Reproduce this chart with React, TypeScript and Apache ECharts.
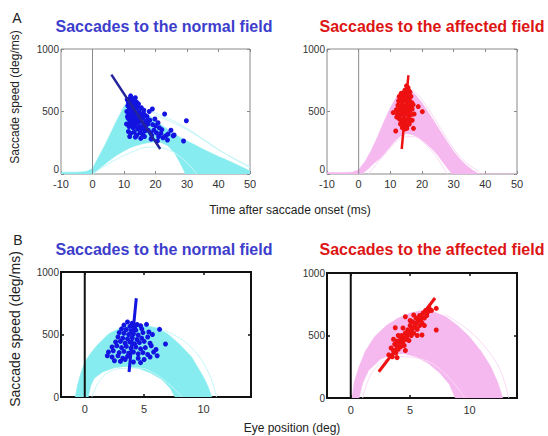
import React, { useEffect, useRef } from "react";
import * as echarts from "echarts";

const FONT = "'Liberation Sans', Arial, Helvetica, sans-serif";

// ---------- tick values ----------
const timeTicks = [-10, 0, 10, 20, 30, 40, 50];
const posTicks = [0, 5, 10];
const speedTicks = [0, 500, 1000];

// ---------- texts ----------
const panelLetters = ["A", "B"];
const titleNormal = "Saccades to the normal field";
const titleAffected = "Saccades to the affected field";
const yName = "Saccade speed (deg/ms)";
const xNameTime = "Time after saccade onset (ms)";
const xNamePos = "Eye position (deg)";

// ---------- A: speed vs time envelopes ----------
const normalTimeUpper = [[-10, 15], [-5, 15], [-2, 20], [0, 45], [2, 140], [4, 235], [6, 340], [8, 445], [10, 540], [11, 580], [12, 588], [14, 545], [16, 505], [18, 465], [20, 430], [22, 390], [24, 355], [26, 320], [28, 290], [30, 265], [32, 240], [35, 200], [38, 165], [40, 140], [42, 120], [45, 85], [48, 50], [50, 25]];
const normalTimeLower = [[-10, 0], [0, 0], [2, 40], [4, 80], [6, 120], [8, 155], [10, 185], [12, 210], [14, 228], [16, 242], [18, 252], [20, 258], [22, 250], [24, 225], [26, 170], [28, 80], [29.5, 0], [50, 0]];
const normalTimeFaint1 = [[18, 505], [24, 445], [30, 365], [36, 265], [42, 165], [48, 85], [50, 60]];
const normalTimeFaint2 = [[20, 470], [26, 405], [32, 325], [38, 225], [44, 135], [50, 50]];
const normalTimeFaint3 = [[0, 0], [6, 95], [12, 170], [18, 215], [24, 195], [30, 90], [33, 0]];

const affectedTimeUpper = [[-10, 12], [-5, 12], [-2, 15], [0, 35], [2, 100], [4, 190], [6, 300], [8, 420], [10, 530], [12, 620], [14, 670], [15, 682], [16, 676], [18, 632], [20, 570], [22, 495], [24, 415], [26, 335], [28, 255], [30, 180], [32, 120], [34, 70], [36, 30], [38, 0], [50, 0]];
const affectedTimeLower = [[-10, 0], [1, 0], [3, 40], [5, 90], [7, 130], [9, 190], [11, 250], [13, 300], [15, 325], [17, 315], [19, 290], [21, 250], [23, 205], [25, 150], [27, 80], [29, 15], [29.5, 0], [50, 0]];
const affectedTimeFaint1 = [[14, 690], [18, 650], [22, 520], [26, 360], [30, 200], [34, 90], [38, 20]];
const affectedTimeFaint2 = [[3, 0], [8, 150], [13, 280], [17, 300], [21, 240], [25, 120], [28, 0]];

// ---------- B: speed vs position envelopes ----------
const normalPosUpper = [[-0.8, 0], [-0.6, 100], [-0.3, 200], [0, 280], [0.5, 350], [1, 410], [2, 505], [3, 555], [4, 580], [5, 575], [6, 555], [7, 505], [8, 420], [9, 320], [10, 160], [10.4, 80], [10.7, 0]];
const normalPosLower = [[-0.8, 0], [0.3, 0], [0.5, 90], [0.8, 150], [1.5, 200], [2.5, 235], [3.5, 245], [4.5, 230], [5.5, 195], [6.5, 140], [7.2, 70], [7.6, 0], [10.7, 0]];
const normalPosFaint1 = [[0.6, 0], [1.5, 160], [3, 228], [4.5, 232], [6, 180], [7.3, 85], [8.2, 0]];
const normalPosFaint2 = [[6, 560], [8, 470], [9.5, 340], [10.5, 180], [11.1, 0]];

const affectedPosUpper = [[0.1, 0], [0.3, 130], [0.7, 250], [1.2, 370], [2, 490], [3, 580], [4, 640], [5, 680], [6, 700], [7, 690], [8, 650], [9, 580], [10, 490], [11, 370], [11.8, 250], [12.4, 120], [12.8, 0]];
const affectedPosLower = [[0.1, 0], [0.7, 0], [1, 120], [1.5, 220], [2.5, 310], [3.5, 350], [4.5, 355], [5.5, 330], [6.5, 280], [7.5, 200], [8.3, 110], [8.8, 0], [12.8, 0]];
const affectedPosFaint1 = [[8, 665], [10, 535], [11.5, 385], [12.6, 220], [13.3, 0]];
const affectedPosFaint2 = [[1.0, 0], [2, 230], [4, 330], [6, 310], [8, 190], [9.6, 0]];

// ---------- scatter points ----------
const normalTimePts = [
  [11.0, 595], [11.4, 575], [11.9, 605], [12.4, 590], [12.9, 570], [13.3, 585],
  [11.2, 545], [11.7, 525], [12.2, 555], [12.7, 535], [13.2, 550], [13.8, 525], [14.3, 540],
  [10.9, 500], [11.5, 485], [12.0, 470], [12.6, 505], [13.1, 490], [13.7, 470], [14.2, 485], [14.8, 500], [15.4, 470], [16.1, 485],
  [11.3, 445], [11.8, 430], [12.4, 450], [13.0, 420], [13.5, 440], [14.1, 410], [14.7, 435], [15.2, 420], [15.9, 445], [16.6, 410], [17.3, 460],
  [10.8, 400], [11.6, 380], [12.3, 395], [12.9, 370], [13.5, 390], [14.3, 360], [14.9, 380], [15.6, 360], [16.2, 390], [16.9, 370], [17.6, 400], [18.2, 430],
  [11.4, 340], [12.1, 325], [13.2, 335], [14.0, 310], [15.1, 330], [15.9, 320], [16.7, 345], [17.7, 350], [18.4, 330], [19.1, 395],
  [11.8, 300], [13.6, 295], [15.3, 285], [16.5, 300], [18.8, 310], [19.5, 350], [20.3, 330], [21.0, 300], [21.7, 325], [22.4, 290], [23.2, 305], [24.0, 320], [24.9, 350], [25.6, 305],
  [23.8, 272], [20.6, 265], [25.9, 312], [19.0, 520], [22.9, 480], [29.8, 426], [28.9, 264], [18.0, 500], [20.0, 385], [21.2, 370], [16.5, 475],
  [12.1, 625], [13.6, 610], [14.6, 560], [15.5, 530], [16.3, 510], [17.1, 425], [19.8, 440], [22.0, 355], [20.8, 410], [18.6, 280],
  [11.5, 560], [12.5, 520], [13.0, 600], [14.0, 575], [11.1, 460], [12.8, 455], [13.9, 450], [11.9, 405], [13.2, 385],
];
const normalTimeFit = [[6.0, 795], [21.5, 200]];

const affectedTimePts = [
  [15.1, 705], [15.6, 690], [14.6, 670], [15.9, 665], [13.4, 645], [14.2, 650], [15.3, 640], [16.2, 655],
  [12.8, 620], [13.6, 615], [14.4, 625], [15.0, 610], [15.8, 605], [16.5, 620],
  [12.6, 585], [13.2, 590], [13.9, 580], [14.7, 595], [15.4, 575], [16.1, 585], [16.8, 570],
  [12.4, 550], [13.0, 545], [13.7, 555], [14.3, 540], [15.1, 550], [15.8, 535], [16.4, 545], [17.2, 555],
  [11.9, 515], [12.7, 510], [13.4, 520], [14.1, 505], [14.8, 515], [15.5, 500], [16.2, 510], [16.9, 520],
  [12.2, 480], [13.0, 470], [13.6, 485], [14.4, 475], [15.2, 480], [15.9, 465], [16.6, 475],
  [12.9, 440], [13.5, 430], [14.2, 445], [14.9, 425], [15.6, 440], [16.3, 430],
  [13.2, 400], [13.9, 395], [14.6, 405], [15.3, 390], [16.0, 400],
  [13.8, 370], [14.5, 360], [15.2, 365],
  [18.8, 539], [20.1, 499], [10.9, 491], [11.7, 344], [17.3, 365], [17.5, 480], [12.0, 455], [16.9, 430],
];
const affectedTimeFit = [[13.6, 200], [15.7, 790]];

const normalPosPts = [
  [3.6, 600], [4.0, 590], [4.4, 580], [3.3, 575], [3.8, 565], [4.2, 555], [4.7, 570], [3.1, 545],
  [3.5, 540], [3.9, 530], [4.3, 535], [4.8, 545], [5.2, 581], [2.9, 515], [3.3, 510], [3.7, 500], [4.1, 505], [4.5, 495], [4.9, 515], [5.4, 520],
  [2.8, 480], [3.2, 470], [3.6, 465], [4.0, 475], [4.4, 460], [4.8, 470], [5.3, 480], [6.3, 541], [5.7, 500],
  [2.6, 440], [3.0, 445], [3.4, 430], [3.8, 440], [4.2, 425], [4.6, 435], [5.0, 445], [5.5, 430],
  [2.3, 400], [2.7, 410], [3.1, 395], [3.5, 405], [3.9, 390], [4.3, 400], [4.7, 385], [5.1, 395], [5.6, 410], [6.0, 380],
  [2.0, 360], [2.4, 370], [2.9, 355], [3.3, 365], [3.7, 350], [4.1, 360], [4.5, 345], [4.9, 355], [5.3, 340], [5.8, 360],
  [1.9, 330], [2.3, 320], [2.8, 330], [3.2, 310], [3.6, 325], [4.5, 310], [5.0, 300], [5.5, 320], [6.8, 424], [2.5, 290], [3.0, 285], [4.1, 280], [4.7, 275], [3.4, 300], [6.1, 330],
];
const normalPosFit = [[3.73, 200], [4.34, 790]];

const affectedPosPts = [
  [3.2, 345], [3.4, 400], [3.5, 330], [3.6, 380], [3.7, 430], [3.8, 360], [3.9, 410], [3.9, 455],
  [4.0, 390], [4.1, 440], [4.2, 470], [4.2, 410], [4.3, 500], [4.4, 450], [4.5, 480], [4.5, 420], [4.6, 520], [4.7, 470],
  [4.8, 500], [4.8, 545], [4.9, 460], [5.0, 530], [5.0, 580], [5.1, 500], [5.2, 555], [5.2, 610], [5.3, 520], [5.4, 570],
  [5.5, 600], [5.5, 640], [5.6, 550], [5.7, 620], [5.8, 580], [5.8, 660], [5.9, 630], [6.0, 600], [6.1, 680], [6.2, 640],
  [6.3, 700], [6.4, 660], [6.5, 690], [6.6, 720], [6.8, 700], [7.2, 717], [7.2, 544], [3.9, 323], [4.6, 380], [5.6, 500],
  [6.2, 580], [4.4, 560], [3.6, 470], [5.0, 620], [6.0, 504], [4.0, 500], [3.75, 562], [4.6, 650], [5.3, 664],
];
const affectedPosFit = [[2.36, 210], [7.1, 800]];

// ---------- styles ----------
const CYAN = "#86ecef";
const CYAN_FAINT = "#c4f6f7";
const PINK = "#f5b8ef";
const PINK_FAINT = "#f9d9f5";
const BLUE = "#1414e0";
const NAVY = "#23239c";
const RED = "#ee1111";

const grids = [
  { left: 61, top: 49, width: 189, height: 125 },
  { left: 327, top: 49, width: 190, height: 125 },
  { left: 61, top: 272, width: 190, height: 125 },
  { left: 327, top: 273, width: 190, height: 125 },
];

function buildOption() {
  const isB = (i: number) => i >= 2;
  const border = (i: number) => (isB(i) ? "#111" : "#8a8a8a");

  const xAxes: any[] = [];
  const yAxes: any[] = [];
  for (let k = 0; k < 2; k++) {
    for (let i = 0; i < 4; i++) {
      const b = isB(i);
      const tickStyle = { color: border(i), width: b ? 1.5 : 1 };
      const xBase: any = {
        type: "value",
        gridIndex: i,
        position: k === 0 ? "bottom" : "top",
        axisLine: { show: false, onZero: false },
        splitLine: { show: false },
        axisTick: { show: true, inside: true, length: 3, lineStyle: tickStyle },
        axisLabel: { show: k === 0, fontSize: 11, color: "#333", margin: b ? 6 : 4, fontFamily: FONT, formatter: (v: number) => String(v) },
      };
      if (b) {
        xBase.min = -2;
        xBase.max = 14;
        xBase.axisTick.customValues = posTicks;
        xBase.axisLabel.customValues = posTicks;
      } else {
        xBase.min = timeTicks[0];
        xBase.max = timeTicks[timeTicks.length - 1];
        xBase.interval = 10;
      }
      xAxes.push(xBase);
      const yLabel: any = { show: k === 0, fontSize: 10, color: "#333", margin: 2, fontFamily: FONT, formatter: (v: number) => String(v) };
      if (!b) yLabel.verticalAlignMinLabel = "bottom";
      yAxes.push({
        type: "value",
        gridIndex: i,
        position: k === 0 ? "left" : "right",
        min: speedTicks[0],
        max: speedTicks[speedTicks.length - 1],
        interval: 500,
        axisLine: { show: false, onZero: false },
        splitLine: { show: false },
        axisTick: { show: true, inside: true, length: 3, lineStyle: tickStyle },
        axisLabel: yLabel,
      });
    }
  }

  const series: any[] = [];
  const band = (i: number, upper: number[][], lower: number[][], color: string) => {
    const poly = upper.concat(lower.slice().reverse());
    series.push({
      type: "custom",
      xAxisIndex: i,
      yAxisIndex: i,
      z: 1,
      clip: true,
      silent: true,
      data: [upper[0]],
      renderItem: (_p: any, api: any) => ({
        type: "polygon",
        shape: { points: poly.map((p) => api.coord(p)) },
        style: { fill: color, stroke: color, lineWidth: 0.5 },
      }),
    });
  };
  const faint = (i: number, pts: number[][], color: string) => {
    series.push({
      type: "line",
      xAxisIndex: i,
      yAxisIndex: i,
      z: 2,
      data: pts,
      smooth: 0.4,
      symbol: "none",
      silent: true,
      lineStyle: { color, width: 1 },
    });
  };
  const zero = (i: number) => {
    series.push({
      type: "line",
      xAxisIndex: i,
      yAxisIndex: i,
      z: 3,
      data: [[0, speedTicks[0]], [0, speedTicks[2]]],
      symbol: "none",
      silent: true,
      lineStyle: { color: isB(i) ? "#111" : "#8a8a8a", width: isB(i) ? 2 : 1 },
    });
  };
  const dots = (i: number, pts: number[][], color: string) => {
    series.push({
      type: "scatter",
      xAxisIndex: i,
      yAxisIndex: i,
      z: 4,
      data: pts,
      symbol: "circle",
      symbolSize: 5,
      itemStyle: { color, opacity: 1 },
    });
  };
  const fit = (i: number, pts: number[][], color: string, w: number) => {
    series.push({
      type: "line",
      xAxisIndex: i,
      yAxisIndex: i,
      z: 5,
      data: pts,
      symbol: "none",
      lineStyle: { color, width: w },
    });
  };

  band(0, normalTimeUpper, normalTimeLower, CYAN);
  faint(0, normalTimeFaint1, CYAN_FAINT);
  faint(0, normalTimeFaint2, CYAN_FAINT);
  faint(0, normalTimeFaint3, CYAN_FAINT);
  zero(0);
  dots(0, normalTimePts, BLUE);
  fit(0, normalTimeFit, NAVY, 2.5);

  band(1, affectedTimeUpper, affectedTimeLower, PINK);
  faint(1, affectedTimeFaint1, PINK_FAINT);
  faint(1, affectedTimeFaint2, PINK_FAINT);
  zero(1);
  dots(1, affectedTimePts, RED);
  fit(1, affectedTimeFit, RED, 2.5);

  band(2, normalPosUpper, normalPosLower, CYAN);
  faint(2, normalPosFaint1, CYAN_FAINT);
  faint(2, normalPosFaint2, CYAN_FAINT);
  zero(2);
  dots(2, normalPosPts, BLUE);
  fit(2, normalPosFit, BLUE, 3);

  band(3, affectedPosUpper, affectedPosLower, PINK);
  faint(3, affectedPosFaint1, PINK_FAINT);
  faint(3, affectedPosFaint2, PINK_FAINT);
  zero(3);
  dots(3, affectedPosPts, RED);
  fit(3, affectedPosFit, RED, 3);

  const txt = (text: string, x: number, y: number, font: string, fill: string, rotation = 0) => ({
    type: "text",
    x,
    y,
    rotation,
    silent: true,
    style: { text, font, fill, align: "center", verticalAlign: "middle" },
  });

  const graphic = [
    txt(panelLetters[0], 17, 18, `14px ${FONT}`, "#222"),
    txt(panelLetters[1], 18, 240, `14px ${FONT}`, "#222"),
    txt(titleNormal, 164, 26, `bold 16px ${FONT}`, "#3d3dcc"),
    txt(titleAffected, 432, 26, `bold 16px ${FONT}`, "#dd1515"),
    txt(titleNormal, 164, 249, `bold 16px ${FONT}`, "#3d3dcc"),
    txt(titleAffected, 432, 249, `bold 16px ${FONT}`, "#dd1515"),
    txt(yName, 15, 97, `12px ${FONT}`, "#222", Math.PI / 2),
    txt(yName, 15, 329, `14px ${FONT}`, "#222", Math.PI / 2),
    txt(xNameTime, 290, 210, `12px ${FONT}`, "#222"),
    txt(xNamePos, 292, 428, `12px ${FONT}`, "#222"),
  ];

  return {
    animation: false,
    backgroundColor: "#ffffff",
    grid: grids.map((g, i) => ({
      ...g,
      show: true,
      borderColor: isB(i) ? "#111" : "#8a8a8a",
      borderWidth: isB(i) ? 2 : 1,
      backgroundColor: "transparent",
      containLabel: false,
    })),
    xAxis: xAxes,
    yAxis: yAxes,
    series,
    graphic,
  };
}

export default function App() {
  const ref = useRef<HTMLDivElement>(null);
  useEffect(() => {
    if (!ref.current) return;
    const chart = echarts.init(ref.current, undefined, { renderer: "svg" });
    chart.setOption(buildOption() as any);
    return () => chart.dispose();
  }, []);
  return (
    <div
      ref={ref}
      style={{ position: "fixed", left: 0, top: 0, width: 548, height: 436, background: "#fff" }}
    />
  );
}
